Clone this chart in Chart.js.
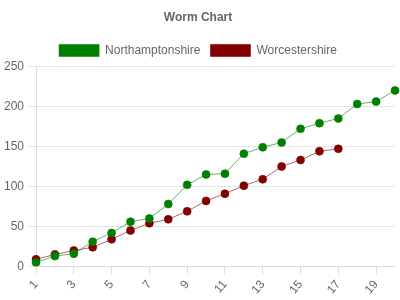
<!DOCTYPE html>
<html>
<head>
<meta charset="utf-8">
<script src="https://cdn.jsdelivr.net/npm/chart.js@4.4.0/dist/chart.umd.min.js"></script>
<style>
  html, body { margin: 0; padding: 0; background: #fff; }
  #wrap { width: 400px; height: 300px; }
</style>
</head>
<body>
<div id="wrap"><canvas id="worm"></canvas></div>
<script>
// overs 1..20
const overs = ['1','2','3','4','5','6','7','8','9','10','11','12','13','14','15','16','17','18','19','20'];
const northants = [5, 13, 16, 31, 42, 56, 60, 78, 102, 115, 116, 141, 149, 155, 172, 179, 185, 203, 206, 220];
const worcs = [9, 15, 20, 24, 34, 45, 54, 59, 69, 82, 91, 101, 109, 125, 133, 144, 147];
const yTicks = [0, 50, 100, 150, 200, 250];

Chart.defaults.font.family = '"Liberation Sans", Arial, sans-serif';
Chart.defaults.font.size = 12;
Chart.defaults.color = '#666';

new Chart(document.getElementById('worm'), {
    type: 'line',
    data: {
        labels: overs,
        datasets: [{
            label: 'Northamptonshire',
            data: northants,
            borderColor: 'rgba(0,128,0,0.6)',
            backgroundColor: '#008000',
            borderWidth: 1,
            pointRadius: 4,
            pointBorderColor: 'rgba(0,128,0,0.6)',
            pointBorderWidth: 1,
            tension: 0,
            fill: false
        }, {
            label: 'Worcestershire',
            data: worcs,
            borderColor: 'rgba(128,0,0,0.6)',
            backgroundColor: '#800000',
            borderWidth: 1,
            pointRadius: 4,
            pointBorderColor: 'rgba(128,0,0,0.6)',
            pointBorderWidth: 1,
            tension: 0,
            fill: false
        }]
    },
    options: {
        responsive: true,
        maintainAspectRatio: false,
        animation: false,
        layout: { padding: { left: 0, right: 4, top: 0, bottom: 0 } },
        plugins: {
            title: {
                display: true,
                text: 'Worm Chart',
                font: { size: 12, weight: 'bold' },
                color: '#666',
                padding: { top: 10, bottom: 10 }
            },
            legend: {
                labels: {
                    boxWidth: 40,
                    boxHeight: 12,
                    padding: 10,
                    font: { size: 12 }
                }
            },
            tooltip: { enabled: false }
        },
        scales: {
            x: {
                offset: false,
                grid: { drawOnChartArea: false, color: '#ddd', tickLength: 8 },
                border: { color: '#ddd' },
                ticks: {
                    autoSkip: false,
                    minRotation: 50,
                    maxRotation: 50,
                    callback: function (v, i) { return i % 2 === 0 ? overs[i] : null; }
                }
            },
            y: {
                min: 0,
                max: 250,
                afterBuildTicks: function (axis) { axis.ticks = yTicks.map(v => ({ value: v })); },
                grid: { color: '#e5e5e5', tickLength: 8 },
                border: { color: '#ddd' },
                ticks: { padding: 4 }
            }
        }
    }
});
</script>
</body>
</html>
